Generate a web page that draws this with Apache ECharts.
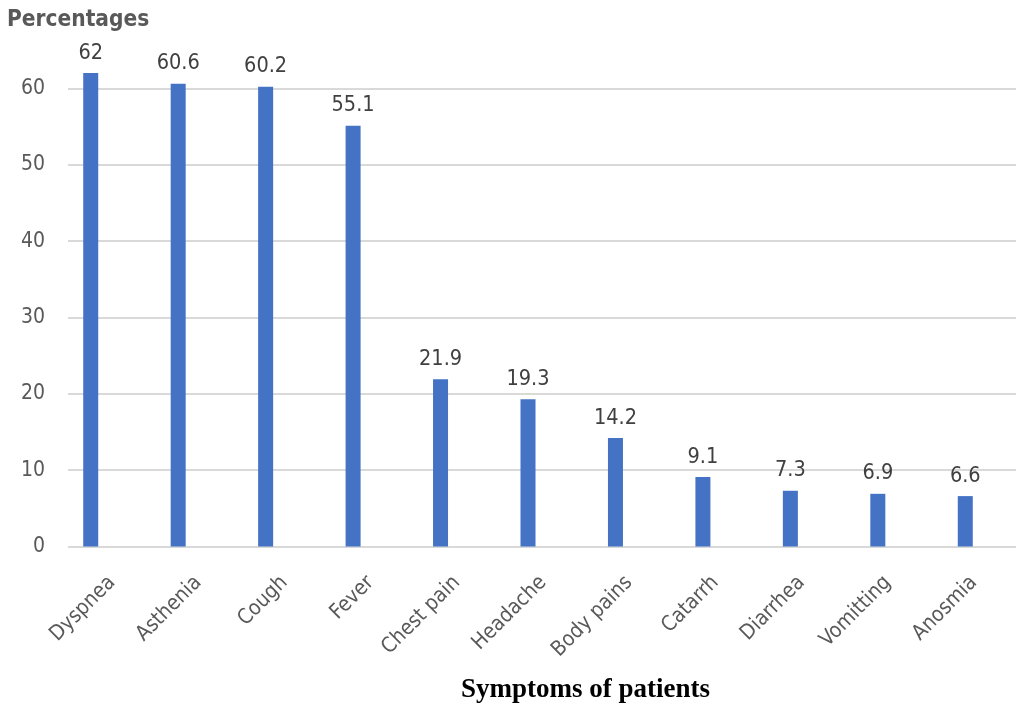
<!DOCTYPE html>
<html>
<head>
<meta charset="utf-8">
<script src="https://cdn.jsdelivr.net/npm/echarts@6/dist/echarts.min.js"></script>
<style>
html,body{margin:0;padding:0;background:#fff;}
#chart{width:1017px;height:706px;}
</style>
</head>
<body>
<div id="chart"></div>
<script>
var categories = ['Dyspnea','Asthenia','Cough','Fever','Chest pain','Headache','Body pains','Catarrh','Diarrhea','Vomitting','Anosmia'];
var percentages = [62, 60.6, 60.2, 55.1, 21.9, 19.3, 14.2, 9.1, 7.3, 6.9, 6.6];
var yTicks = [0, 10, 20, 30, 40, 50, 60, 70];
var yAxisTitle = 'Percentages';
var xAxisTitle = 'Symptoms of patients';

var FONT = '"DejaVu Sans Condensed", "DejaVu Sans", sans-serif';
var chart = echarts.init(document.getElementById('chart'), null, {renderer: 'canvas'});
var gTop = 12, gBottom = 159.5;
chart.setOption({
  animation: false,
  backgroundColor: '#ffffff',
  title: {
    text: yAxisTitle,
    left: 7, top: 9, padding: 0,
    textStyle: {fontFamily: FONT, fontSize: 22.5, fontWeight: 'bold', color: '#595959'}
  },
  graphic: [{
    type: 'text', left: 461, top: 677,
    style: {text: xAxisTitle, font: 'bold 27px "Liberation Serif", "Times New Roman", serif', fill: '#000000'}
  }],
  grid: [
    {left: 68, right: 1, top: gTop, bottom: gBottom},
    {left: 47, right: 8, top: gTop, bottom: gBottom},
    {left: 69, right: -14, top: gTop, bottom: gBottom}
  ],
  xAxis: [
    {type: 'category', gridIndex: 0, data: categories, show: false},
    {type: 'category', gridIndex: 1, data: categories,
      axisLine: {show: false}, axisTick: {show: false}, axisLabel: {show: false}},
    {type: 'category', gridIndex: 2, data: categories,
      axisLine: {show: false}, axisTick: {show: false},
      axisLabel: {rotate: 45, margin: 33, interval: 0, fontFamily: FONT, fontSize: 21, color: '#595959'}}
  ],
  yAxis: [
    {type: 'value', gridIndex: 0, min: yTicks[0], max: yTicks[yTicks.length-1], interval: 10,
      axisLine: {show: false}, axisTick: {show: false},
      axisLabel: {margin: 23, fontFamily: FONT, fontSize: 21, color: '#595959', showMaxLabel: false},
      splitLine: {show: true, showMaxLine: false, lineStyle: {color: '#d9d9d9', width: 2}}},
    {type: 'value', gridIndex: 1, min: yTicks[0], max: yTicks[yTicks.length-1], interval: 10, show: false, splitLine: {show: false}},
    {type: 'value', gridIndex: 2, min: yTicks[0], max: yTicks[yTicks.length-1], interval: 10, show: false, splitLine: {show: false}}
  ],
  series: [{
    type: 'bar', xAxisIndex: 1, yAxisIndex: 1,
    data: percentages, barWidth: 15,
    itemStyle: {color: '#4472c4'},
    label: {show: true, position: 'top', distance: 9, fontFamily: FONT, fontSize: 21.5, color: '#404040'}
  }]
});
</script>
</body>
</html>
